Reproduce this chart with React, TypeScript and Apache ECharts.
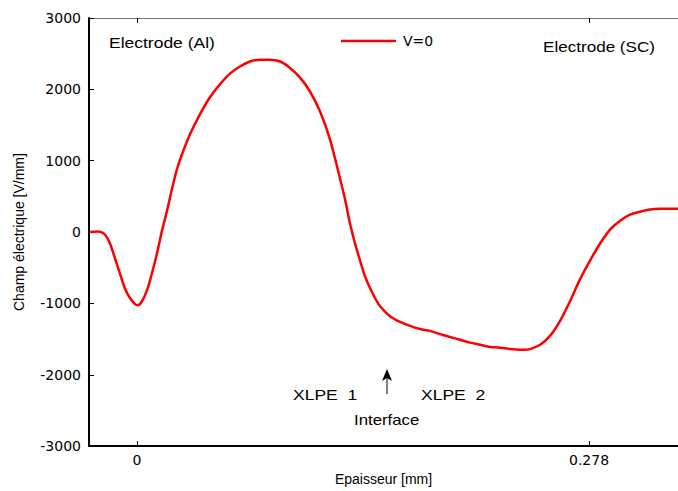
import React, { useEffect, useRef } from "react";
import * as echarts from "echarts";

const thickness = [
  -0.0289, -0.0246, -0.0228, -0.0197, -0.0166, -0.0135, -0.0105, -0.0074, -0.0043, -0.0012,
  0.0006, 0.0031, 0.0062, 0.0092, 0.0123, 0.0154, 0.0185, 0.0215, 0.0246, 0.0277,
  0.0326, 0.0387, 0.0449, 0.051, 0.0572, 0.0633, 0.0695, 0.0757, 0.0818, 0.088,
  0.0941, 0.1003, 0.1064, 0.1126, 0.1187, 0.1249, 0.1279, 0.131, 0.1341, 0.1372,
  0.1402, 0.1433, 0.1464, 0.1495, 0.1556, 0.1618, 0.1679, 0.1741, 0.1802, 0.1864,
  0.1925, 0.1987, 0.2048, 0.211, 0.2171, 0.2233, 0.2294, 0.2356, 0.2386, 0.2417,
  0.2479, 0.254, 0.2602, 0.2663, 0.2725, 0.2786, 0.2848, 0.2909, 0.2971, 0.3032,
  0.3094, 0.3155, 0.3217, 0.3278, 0.3327,
];
const field = [
  0, 8, 5, -35, -160, -370, -580, -790, -925, -1010,
  -1025, -970, -815, -580, -300, 20, 300, 600, 880, 1090,
  1370, 1650, 1890, 2070, 2220, 2320, 2390, 2415, 2415, 2390,
  2300, 2165, 1970, 1690, 1300, 745, 465, 120, -160, -400,
  -620, -785, -925, -1040, -1180, -1260, -1315, -1360, -1385, -1430,
  -1470, -1510, -1550, -1580, -1610, -1620, -1640, -1650, -1650, -1640,
  -1580, -1455, -1245, -970, -660, -400, -160, 35, 160, 245,
  285, 315, 325, 325, 325,
];
const xTicks = [0, 0.278];
const seriesName = "V=0";

export default function App() {
  const ref = useRef<HTMLDivElement>(null);
  useEffect(() => {
    if (!ref.current) return;
    const chart = echarts.init(ref.current, null, { renderer: "svg" });
    const ann = (text: string, x: number, y: number, sx = 1.25) => ({
      type: "text",
      x,
      y,
      scaleX: sx,
      style: {
        text,
        fontFamily: "Liberation Sans",
        fontSize: 14,
        fill: "#000",
        textVerticalAlign: "middle",
      },
    });
    chart.setOption({
      animation: false,
      backgroundColor: "#fff",
      grid: { left: 89, right: 0, top: 18, bottom: 42 },
      legend: {
        data: [seriesName],
        left: 341,
        top: 34,
        icon: "rect",
        itemWidth: 55,
        itemHeight: 2.5,
        itemGap: 8,
        textStyle: { fontFamily: "DejaVu Sans", fontSize: 14, color: "#000", padding: [0, 0, 0, 2] },
        padding: 0,
      },
      xAxis: [
        {
          type: "value",
          min: -0.0295,
          max: 0.3327,
          splitLine: { show: false },
          axisLine: { show: true, onZero: false, lineStyle: { color: "#000", width: 2 } },
          axisTick: { show: true, inside: true, length: 5, customValues: xTicks, lineStyle: { color: "#000" } },
          axisLabel: {
            customValues: xTicks,
            margin: 7,
            fontFamily: "DejaVu Sans",
            fontSize: 14,
            color: "#000",
            formatter: (v: number) => String(v),
          },
          name: "Epaisseur [mm]",
          nameLocation: "middle",
          nameGap: 24,
          nameTextStyle: { fontFamily: "Liberation Sans", fontSize: 14, color: "#000" },
        },
        {
          type: "value",
          position: "top",
          min: -0.0295,
          max: 0.3327,
          splitLine: { show: false },
          axisLine: { show: true, onZero: false, lineStyle: { color: "#777", width: 1 } },
          axisTick: { show: true, inside: true, length: 5, customValues: xTicks, lineStyle: { color: "#000" } },
          axisLabel: { show: false },
        },
      ],
      yAxis: {
        type: "value",
        min: -3000,
        max: 3000,
        interval: 1000,
        splitLine: { show: false },
        axisLine: { show: true, onZero: false, lineStyle: { color: "#000", width: 2 } },
        axisTick: { show: true, inside: true, length: 5, lineStyle: { color: "#000" } },
        axisLabel: {
          margin: 8,
          fontFamily: "DejaVu Sans",
          fontSize: 14,
          color: "#000",
          formatter: (v: number) => String(v),
        },
        name: "Champ électrique [V/mm]",
        nameLocation: "middle",
        nameGap: 63,
        nameTextStyle: { fontFamily: "Liberation Sans", fontSize: 14, color: "#000" },
      },
      series: [
        {
          name: seriesName,
          type: "line",
          data: thickness.map((x, i) => [x, field[i]]),
          showSymbol: false,
          symbol: "none",
          smooth: 0.3,
          lineStyle: { color: "#ff0000", width: 2.5 },
          itemStyle: { color: "#ff0000" },
        },
      ],
      graphic: [
        ann("Electrode (Al)", 109, 43),
        ann("Electrode (SC)", 543, 47, 1.22),
        ann("XLPE  1", 293, 395),
        ann("XLPE  2", 421, 395),
        ann("Interface", 354, 420, 1.2),
        {
          type: "line",
          shape: { x1: 387, y1: 378, x2: 387, y2: 394 },
          style: { stroke: "#000", lineWidth: 1 },
        },
        {
          type: "polygon",
          shape: { points: [[387, 369], [382, 381], [387, 378], [392, 381]] },
          style: { fill: "#000" },
        },
      ],
    });
    return () => chart.dispose();
  }, []);
  return <div ref={ref} style={{ width: 678, height: 491, position: "absolute", left: 0, top: 0 }} />;
}
